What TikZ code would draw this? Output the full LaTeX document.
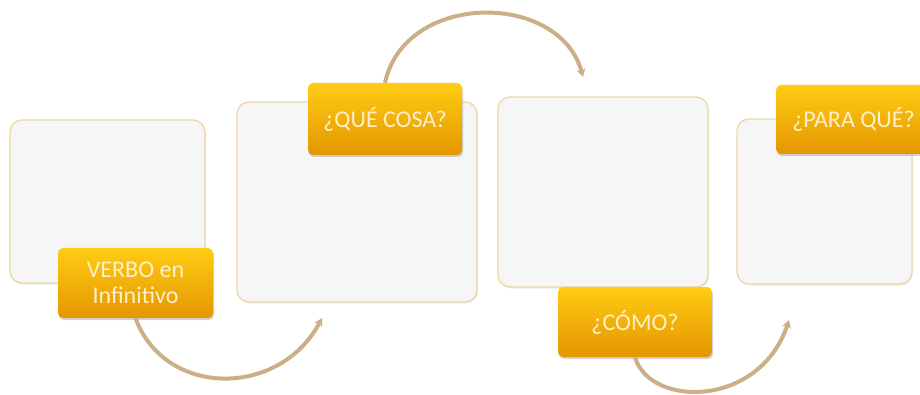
\documentclass[tikz,border=0pt]{standalone}
\usepackage{fontspec}
\setmainfont{Carlito}
\usetikzlibrary{arrows.meta,shadows}
\definecolor{boxfill}{RGB}{246,246,248}
\definecolor{boxline}{RGB}{236,216,160}
\definecolor{tagtop}{RGB}{255,204,20}
\definecolor{tagbot}{RGB}{228,150,0}
\definecolor{tagtext}{RGB}{255,240,200}
\definecolor{arrowc}{RGB}{205,175,135}
\begin{document}
\begin{tikzpicture}[x=1pt,y=-1pt,
 panel/.style={draw=boxline, line width=1.3pt, fill=boxfill, rounded corners=12pt,
   drop shadow={opacity=0.15, shadow xshift=1pt, shadow yshift=-1.5pt}},
 tag/.style={rounded corners=5pt, top color=tagtop, bottom color=tagbot, text=tagtext,
   font=\fontsize{24}{26}\selectfont, align=center, inner sep=0pt,
   drop shadow={opacity=0.35, shadow xshift=1pt, shadow yshift=-2pt}},
 flow/.style={draw=arrowc, line width=4pt, -{Stealth[length=8pt,width=9pt]}}]
\useasboundingbox (0,0) rectangle (920,395);
\clip (0,0) rectangle (920,395);
\node[panel, minimum width=195pt, minimum height=163pt] (p1) at (107.5,201.5) {};
\node[panel, minimum width=240pt, minimum height=200pt] (p2) at (357,202) {};
\node[panel, minimum width=210pt, minimum height=190pt] (p3) at (603,192) {};
\node[panel, minimum width=175pt, minimum height=165pt] (p4) at (824.5,201.5) {};
\coordinate (e1) at (322,318);
\coordinate (e2) at (583,77);
\coordinate (e3) at (789,320);
\node[tag, minimum width=155pt, minimum height=70pt] (t1) at (135.5,283) {VERBO en\\Infinitivo};
\node[tag, minimum width=154pt, minimum height=72pt] (t2) at (385,119) {¿QUÉ COSA?};
\node[tag, minimum width=154pt, minimum height=70pt] (t3) at (635,322) {¿CÓMO?};
\node[tag, minimum width=155pt, minimum height=69pt] (t4) at (853.5,119.5) {¿PARA QUÉ?};
\draw[flow] (t1.south) .. controls (165,398) and (280,398) .. (e1);
\draw[flow] (t2.north) .. controls (405,-9) and (560,-9) .. (e2);
\draw[flow] (t3.south) .. controls (650,408) and (760,408) .. (e3);
\end{tikzpicture}
\end{document}
